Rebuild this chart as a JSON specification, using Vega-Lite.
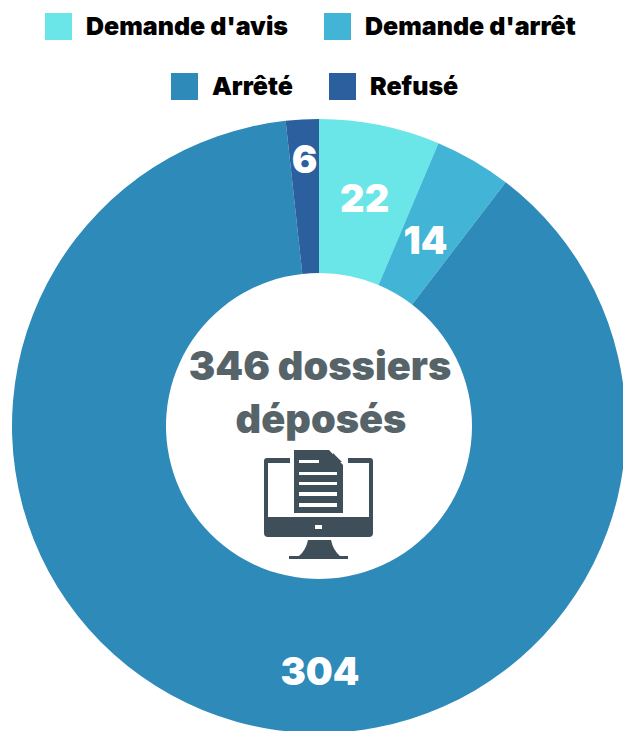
{"$schema":"https://vega.github.io/schema/vega-lite/v6.json","width":608,"height":610,"autosize":"none","padding":{"left":15,"top":121,"right":0,"bottom":0},"background":"white","view":{"stroke":null},
"data":{"values":[{"cat":"Demande d'avis","value":22,"o":1},{"cat":"Demande d'arrêt","value":14,"o":2},{"cat":"Arrêté","value":304,"o":3},{"cat":"Refusé","value":6,"o":4}]},
"transform":[{"stack":"value","sort":[{"field":"o"}],"as":["v0","v1"]}],
"layer":[
{"transform":[{"filter":"datum.o<=2"}],"mark":{"type":"arc","radius":307,"radius2":153},"encoding":{"theta":{"field":"v0","type":"quantitative","scale":{"domain":[0,346]}},"theta2":{"field":"v1"},"color":{"field":"cat","type":"nominal","scale":{"domain":["Demande d'avis","Demande d'arrêt"],"range":["#6AE5E8","#42B5D6"]},"legend":{"title":null,"orient":"none","legendX":30,"legendY":-108,"direction":"horizontal","columns":2,"symbolType":"square","symbolSize":729,"symbolStrokeWidth":0,"labelFont":"Inter","labelFontWeight":900,"labelFontSize":25,"labelColor":"#000","labelOffset":14,"columnPadding":35,"labelLimit":300,"symbolOpacity":1}}}},
{"transform":[{"filter":"datum.o>2"}],"mark":{"type":"arc","radius":307,"radius2":153},"encoding":{"theta":{"field":"v0","type":"quantitative","scale":{"domain":[0,346]}},"theta2":{"field":"v1"},"color":{"field":"cat","type":"nominal","scale":{"domain":["Arrêté","Refusé"],"range":["#2E8AB8","#2C5F9E"]},"legend":{"title":null,"orient":"none","legendX":156,"legendY":-48,"direction":"horizontal","columns":2,"symbolType":"square","symbolSize":729,"symbolStrokeWidth":0,"labelFont":"Inter","labelFontWeight":900,"labelFontSize":25,"labelColor":"#000","labelOffset":14,"columnPadding":36,"labelLimit":300,"symbolOpacity":1}}}},
{"mark":{"type":"text","radius":230,"font":"Inter","fontWeight":900,"fontSize":38,"color":"white","align":"center","baseline":"middle"},"encoding":{"theta":{"field":"value","type":"quantitative","stack":true,"scale":{"domain":[0,346]}},"order":{"field":"o"},"detail":{"field":"cat"},"text":{"condition":{"test":"datum.o!==1","value":""},"field":"value"}}},
{"mark":{"type":"text","radius":212,"font":"Inter","fontWeight":900,"fontSize":38,"color":"white","align":"center","baseline":"middle"},"encoding":{"theta":{"field":"value","type":"quantitative","stack":true,"scale":{"domain":[0,346]}},"order":{"field":"o"},"detail":{"field":"cat"},"text":{"condition":{"test":"datum.o!==2","value":""},"field":"value"}}},
{"mark":{"type":"text","radius":264,"font":"Inter","fontWeight":900,"fontSize":38,"color":"white","align":"center","baseline":"middle"},"encoding":{"theta":{"field":"value","type":"quantitative","stack":true,"scale":{"domain":[0,346]}},"order":{"field":"o"},"detail":{"field":"cat"},"text":{"condition":{"test":"datum.o!==4","value":""},"field":"value"}}},
{"transform":[{"filter":"datum.o===3"}],"mark":{"type":"text","font":"Inter","fontWeight":900,"fontSize":38,"color":"white","align":"center","baseline":"middle","dy":248,"dx":1},"encoding":{"text":{"field":"value"}}},
{"data":{"values":[{"t":"346 dossiers","k":"a"}]},"transform":[],"mark":{"type":"text","font":"Inter","fontWeight":900,"fontSize":39.7,"color":"#566469","align":"center","baseline":"middle","dy":-58,"dx":1},"encoding":{"text":{"field":"t"}}},
{"data":{"values":[{"t":"déposés","k":"b"}]},"transform":[],"mark":{"type":"text","font":"Inter","fontWeight":900,"fontSize":39.7,"color":"#566469","align":"center","baseline":"middle","dy":-5,"dx":2},"encoding":{"text":{"field":"t"}}},
{"data":{"values":[{"t":"icon"}]},"transform":[],"mark":{"type":"point","filled":true,"opacity":1,"size":4,"color":"#3F4F59","strokeWidth":0,"shape":"M-25 24L10 24L24 39L24 87L-25 87ZM-20 34L-20 37L0 37L0 34ZM-20 46L-20 49L18 49L18 46ZM-20 56L-20 59L18 59L18 56ZM-20 66L-20 70L18 70L18 66ZM-20 77L-20 81L18 81L18 77ZM14 27L23 36L14 36ZM-52 32L-29 32L-29 37L-51 37L-51 91L50 91L50 37L29 37L29 32L51 32Q54 32 54 35L54 107Q54 111 50 111L-51 111Q-55 111 -55 107L-55 35Q-55 32 -52 32ZM-4 99L-4 103L3 103L3 99ZM-11 114L12 114Q14 124 21 130L29 130L29 133L-30 133L-30 130L-20 130Q-13 124 -11 114Z"},"encoding":{}}
],
"resolve":{"scale":{"color":"independent"}}}
